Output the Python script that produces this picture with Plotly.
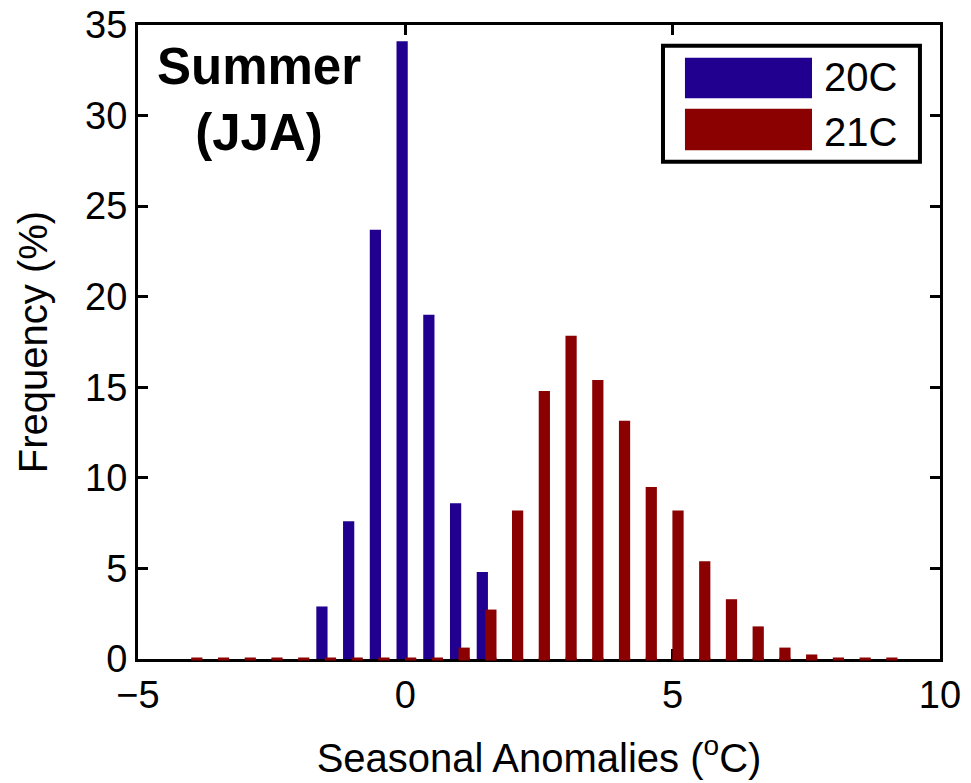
import plotly.graph_objects as go

# ---- data ----
blue_x = [-1.56, -1.06, -0.56, -0.06, 0.44, 0.94, 1.44]
blue_freq = [2.9, 7.6, 23.7, 34.1, 19.0, 8.6, 4.8]

red_x = [-3.9, -3.4, -2.9, -2.4, -1.9, -1.4, -0.9, -0.4, 0.1, 0.6,
         1.1, 1.6, 2.1, 2.6, 3.1, 3.6, 4.1, 4.6, 5.1, 5.6, 6.1, 6.6,
         7.1, 7.6, 8.1, 8.6, 9.1]
red_freq = [0, 0, 0, 0, 0, 0, 0, 0, 0, 0,
            0.63, 2.73, 8.2, 14.8, 17.85, 15.4, 13.15, 9.5, 8.2, 5.4, 3.3, 1.8,
            0.63, 0.25, 0, 0, 0]

series_names = ["20C", "21C"]
x_ticks = [-5, 0, 5, 10]
y_ticks = [0, 5, 10, 15, 20, 25, 30, 35]

BLUE = "#21008f"
RED = "#8b0000"
FONT = "Liberation Sans, Arial, Helvetica, sans-serif"

fig = go.Figure()
fig.add_trace(go.Bar(x=blue_x, y=blue_freq, width=0.21, name=series_names[0],
                     marker=dict(color=BLUE, line=dict(width=0)), showlegend=False))
fig.add_trace(go.Bar(x=red_x, y=red_freq, width=0.21, name=series_names[1],
                     marker=dict(color=RED, line=dict(width=0)), showlegend=False))
# bar bottom edges (visible for the zero-height bins)
fig.add_trace(go.Scatter(x=red_x, y=[0] * len(red_x), mode="markers",
                         marker=dict(symbol="line-ew", size=8, color=RED,
                                     line=dict(color=RED, width=3)),
                         showlegend=False, hoverinfo="skip", cliponaxis=False))

axis_common = dict(showline=True, linecolor="black", linewidth=3, mirror="ticks",
                   ticks="inside", ticklen=10, tickwidth=3, tickcolor="black",
                   showgrid=False, zeroline=False, layer="below traces",
                   automargin=False, ticklabeloverflow="allow",
                   tickfont=dict(family=FONT, size=38, color="black"))

# the page body adds an 8px offset, so the figure is sized/marged to compensate
fig.update_layout(
    width=963, height=775,
    margin=dict(l=130, r=31, t=17, b=124),
    paper_bgcolor="white", plot_bgcolor="white",
    barmode="overlay",
    xaxis=dict(range=[-5, 10], tickvals=x_ticks, ticklabelstandoff=0,
               title=dict(text="Seasonal Anomalies (<sup>o</sup>C)", standoff=30,
                          font=dict(family=FONT, size=40, color="black")),
               **axis_common),
    yaxis=dict(range=[0, 35], tickvals=y_ticks, ticklabelstandoff=0,
               title=dict(text="Frequency (%)", standoff=26,
                          font=dict(family=FONT, size=40, color="black")),
               **axis_common),
    showlegend=False,
)

# title text inside plot
fig.add_annotation(xref="paper", yref="paper", x=0.151, y=0.882,
                   text="<b>Summer</b><br><b>(JJA)</b>", showarrow=False,
                   xanchor="center", yanchor="middle", align="center",
                   font=dict(family=FONT, size=51, color="black"))

# custom legend box
fig.add_shape(type="rect", xref="paper", yref="paper", x0=0.6546, x1=0.975,
              y0=0.7845, y1=0.9674, line=dict(color="black", width=4),
              fillcolor="white", layer="above")
fig.add_shape(type="rect", xref="paper", yref="paper", x0=0.682, x1=0.8404,
              y0=0.8843, y1=0.9484, line=dict(width=0), fillcolor=BLUE, layer="above")
fig.add_shape(type="rect", xref="paper", yref="paper", x0=0.682, x1=0.8404,
              y0=0.8023, y1=0.868, line=dict(width=0), fillcolor=RED, layer="above")
fig.add_annotation(xref="paper", yref="paper", x=0.853, y=0.9185, text=series_names[0],
                   showarrow=False, xanchor="left", yanchor="middle",
                   font=dict(family=FONT, size=40, color="black"))
fig.add_annotation(xref="paper", yref="paper", x=0.853, y=0.8318, text=series_names[1],
                   showarrow=False, xanchor="left", yanchor="middle",
                   font=dict(family=FONT, size=40, color="black"))

fig.write_html("out.html")
